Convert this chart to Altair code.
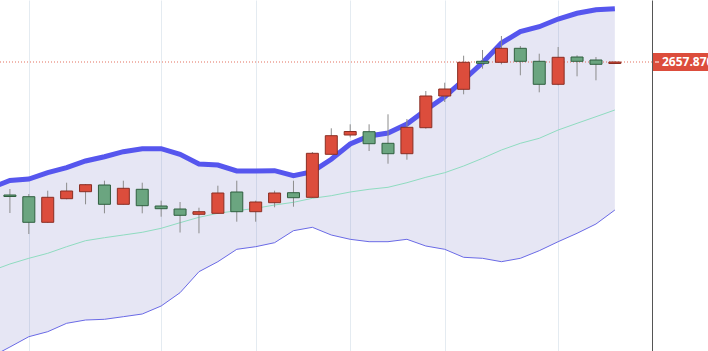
import altair as alt
import pandas as pd

# ---- data ----
candle_idx = list(range(33))
opens = [2631.27, 2630.93, 2625.81, 2630.53, 2631.93, 2633.27, 2629.41, 2632.41, 2629.07, 2628.47,
         2627.41, 2627.61, 2631.87, 2627.93, 2629.73, 2631.73, 2630.81, 2639.41, 2643.27, 2643.93,
         2641.61, 2639.53, 2644.73, 2651.07, 2652.41, 2658.01, 2657.81, 2660.61, 2658.01, 2653.41,
         2658.87, 2658.27, 2657.57]
closes = [2630.97, 2625.81, 2630.81, 2632.07, 2633.33, 2629.41, 2632.61, 2629.13, 2628.53, 2627.21,
          2627.93, 2631.67, 2627.93, 2629.87, 2631.67, 2630.73, 2639.61, 2643.13, 2643.97, 2641.53,
          2639.53, 2644.81, 2651.07, 2652.47, 2657.81, 2657.61, 2660.61, 2658.01, 2653.41, 2658.81,
          2658.01, 2657.41, 2657.87]
highs = [2632.47, 2631.47, 2632.13, 2633.73, 2633.47, 2634.13, 2634.13, 2633.73, 2630.13, 2629.87,
         2628.73, 2633.13, 2634.13, 2630.13, 2632.13, 2634.13, 2639.87, 2644.61, 2645.41, 2645.41,
         2647.41, 2646.47, 2652.07, 2653.73, 2659.13, 2660.27, 2663.07, 2661.07, 2659.53, 2660.87,
         2659.21, 2658.87, 2657.95]
lows = [2627.67, 2623.47, 2625.70, 2630.41, 2629.41, 2627.61, 2629.35, 2627.61, 2626.93, 2623.77,
        2623.61, 2627.55, 2625.93, 2625.93, 2628.81, 2628.93, 2630.75, 2639.35, 2642.81, 2640.07,
        2637.53, 2638.33, 2644.53, 2649.87, 2651.41, 2656.53, 2657.41, 2655.21, 2651.81, 2653.21,
        2655.01, 2654.21, 2657.50]

band_idx = list(range(-1, 33))
upper = [2632.67, 2634.17, 2634.47, 2635.73, 2636.73, 2638.07, 2638.93, 2639.93, 2640.53, 2640.53,
         2639.41, 2637.47, 2637.27, 2636.07, 2636.07, 2636.13, 2635.13, 2635.93, 2638.41, 2641.47,
         2643.07, 2643.67, 2645.47, 2648.27, 2650.93, 2654.27, 2657.73, 2661.67, 2663.93, 2664.93,
         2666.47, 2667.61, 2668.33, 2668.53]
middle = [2616.07, 2617.47, 2618.61, 2619.61, 2620.93, 2622.13, 2622.73, 2623.27, 2623.81, 2624.61,
          2625.73, 2626.81, 2627.61, 2628.13, 2628.61, 2629.27, 2629.81, 2630.61, 2631.13, 2631.87,
          2632.41, 2632.81, 2633.73, 2634.81, 2635.73, 2637.07, 2638.61, 2640.27, 2641.61, 2642.61,
          2644.27, 2645.61, 2646.93, 2648.27]
lower = [2598.87, 2600.87, 2602.93, 2603.93, 2605.61, 2606.27, 2606.41, 2606.93, 2607.47, 2609.07,
         2611.73, 2615.93, 2617.93, 2620.41, 2620.93, 2621.73, 2624.13, 2624.81, 2623.27, 2622.41,
         2621.93, 2621.93, 2622.41, 2621.07, 2620.41, 2618.81, 2618.61, 2617.93, 2618.61, 2620.13,
         2621.93, 2623.61, 2625.47, 2628.27]

grid_idx = [1, 8, 13, 18, 23, 29]
last_price = 2657.87
last_label = "2657.870"

# ---- tables ----
candles = pd.DataFrame({"i": candle_idx, "open": opens, "close": closes, "high": highs, "low": lows})
bands = pd.DataFrame({"i": band_idx, "upper": upper, "middle": middle, "lower": lower})
price = pd.DataFrame({"p": [last_price], "label": [last_label]})

W, H = 652, 351
x_scale = alt.Scale(domain=[-0.26, 33.7], nice=False, zero=False)
y_scale = alt.Scale(domain=[2600.07, 2670.27], nice=False, zero=False)
x_axis = alt.Axis(values=grid_idx, grid=True, gridColor="#e4ebf1", gridWidth=1,
                  labels=False, ticks=False, domain=False, title=None)
y_axis = alt.Axis(orient="right", grid=False, labels=False, ticks=False, domain=True,
                  domainColor="#555555", domainWidth=1, title=None)


def X():
    return alt.X("i:Q", scale=x_scale, axis=x_axis)


def Y(field):
    return alt.Y(f"{field}:Q", scale=y_scale, axis=y_axis)


band_base = alt.Chart(bands)

fill = band_base.mark_area(color="#5a5ab4", opacity=0.15, clip=True).encode(
    x=X(), y=Y("lower"), y2="upper:Q")
mid = band_base.mark_line(color="#8fdcc0", strokeWidth=1, clip=True).encode(x=X(), y=Y("middle"))
low_line = band_base.mark_line(color="#6a6ae6", strokeWidth=1, clip=True).encode(x=X(), y=Y("lower"))
up_line = band_base.mark_line(color="#5656ee", strokeWidth=5, clip=True).encode(x=X(), y=Y("upper"))

price_line = alt.Chart(price).mark_rule(color="#e0604c", strokeWidth=1, strokeDash=[1, 2],
                                        opacity=0.9).encode(y=Y("p"))

cbase = alt.Chart(candles).transform_calculate(
    dir="datum.close >= datum.open ? 'up' : 'down'")

wicks = cbase.mark_rule(color="#8c8c8c", strokeWidth=1, clip=True).encode(
    x=X(), y=Y("low"), y2="high:Q")
bodies = cbase.mark_bar(size=12, strokeWidth=1, clip=True).encode(
    x=X(), y=Y("open"), y2="close:Q",
    fill=alt.Fill("dir:N", scale=alt.Scale(domain=["up", "down"], range=["#dc4d3c", "#6ba580"]),
                  legend=None),
    stroke=alt.Stroke("dir:N", scale=alt.Scale(domain=["up", "down"], range=["#8a2e23", "#2f5f3f"]),
                      legend=None),
)

label_box = alt.Chart(price).mark_rule(color="#dc4d3c", strokeWidth=18).encode(
    x=alt.value(653), x2=alt.value(715), y=Y("p"))
label_tick = alt.Chart(price).mark_rule(color="#ffffff", strokeWidth=1).encode(
    x=alt.value(655), x2=alt.value(659), y=Y("p"))
label_text = alt.Chart(price).mark_text(align="left", baseline="middle", color="#ffffff",
                                        font="Open Sans", fontSize=12, fontWeight="bold").encode(
    x=alt.value(662), y=Y("p"), text="label:N")

chart = alt.layer(fill, mid, low_line, up_line, price_line, wicks, bodies,
                  label_box, label_tick, label_text).properties(
    width=W, height=H,
    autosize=alt.AutoSizeParams(type="none"),
    padding={"left": 0, "top": 0, "right": 56, "bottom": 0},
    background="#ffffff",
).configure_view(stroke=None)

chart.save("out.html", embed_options={"renderer": "svg", "actions": False})
